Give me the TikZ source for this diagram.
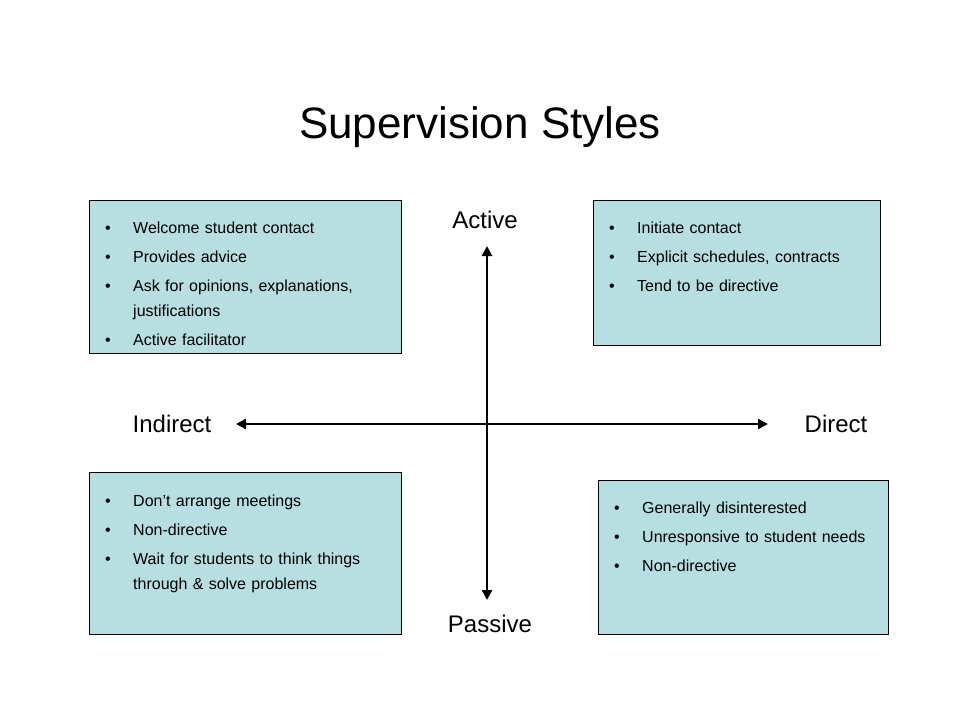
\documentclass[tikz,border=0pt]{standalone}
\usepackage{fontspec}
\setmainfont{Liberation Sans}
\usepackage{enumitem}
\usepackage{xcolor}
\definecolor{boxTeal}{HTML}{B7DEE0}
\usetikzlibrary{arrows.meta, positioning}

\newcommand{\boxlist}[1]{%
  \begin{itemize}[leftmargin=28pt, labelsep=0pt, labelwidth=28pt, align=left,
    itemsep=4pt, parsep=0pt, topsep=0pt, partopsep=0pt]
  #1
  \end{itemize}}

\begin{document}
\begin{tikzpicture}[
    x=1pt, y=-1pt,
    quad/.style={
        draw=black,
        fill=boxTeal,
        rectangle,
        anchor=north west,
        inner sep=0pt
    },
    quadtext/.style={
        anchor=north west,
        inner sep=0pt,
        align=left,
        font=\fontsize{16}{25}\selectfont
    },
    axislabel/.style={
        font=\fontsize{24}{28}\selectfont
    },
    axis/.style={
        {Triangle[length=10pt,width=10pt]}-{Triangle[length=10pt,width=10pt]},
        line width=2.5pt
    }
]
\useasboundingbox (0,0) rectangle (960,720);

\node[font=\fontsize{44}{50}\selectfont] (title) at (480,127) {Supervision Styles};

% Quadrant boxes
\node[quad, minimum width=312pt, minimum height=153pt] (tl) at (89,200) {};
\node[quad, minimum width=287pt, minimum height=145pt] (tr) at (593,200) {};
\node[quad, minimum width=312pt, minimum height=162pt] (bl) at (89,472) {};
\node[quad, minimum width=290pt, minimum height=154pt] (br) at (598,480) {};

\node[quadtext, text width=296pt] (tltext) at ([xshift=16pt, yshift=-8pt]tl.north west) {\boxlist{
  \item Welcome student contact
  \item Provides advice
  \item Ask for opinions, explanations, justifications
  \item Active facilitator}};
\node[quadtext, text width=270pt] (trtext) at ([xshift=16pt, yshift=-8pt]tr.north west) {\boxlist{
  \item Initiate contact
  \item Explicit schedules, contracts
  \item Tend to be directive}};
\node[quadtext, text width=296pt] (bltext) at ([xshift=16pt, yshift=-9pt]bl.north west) {\boxlist{
  \item Don’t arrange meetings
  \item Non-directive
  \item Wait for students to think things through \& solve problems}};
\node[quadtext, text width=270pt] (brtext) at ([xshift=16pt, yshift=-8pt]br.north west) {\boxlist{
  \item Generally disinterested
  \item Unresponsive to student needs
  \item Non-directive}};

% Axes
\node[axislabel] (active) at (485,220) {Active};
\node[axislabel] (passive) at (490,624) {Passive};
\node[axislabel] (indirect) at (172,424) {Indirect};
\node[axislabel] (direct) at (836,424) {Direct};
\coordinate (top) at (487,246);
\coordinate (bottom) at (487,600);
\coordinate (left) at (236,424);
\coordinate (right) at (768,424);
\draw[axis] (top) -- (bottom);
\draw[axis] (left) -- (right);

\end{tikzpicture}
\end{document}
